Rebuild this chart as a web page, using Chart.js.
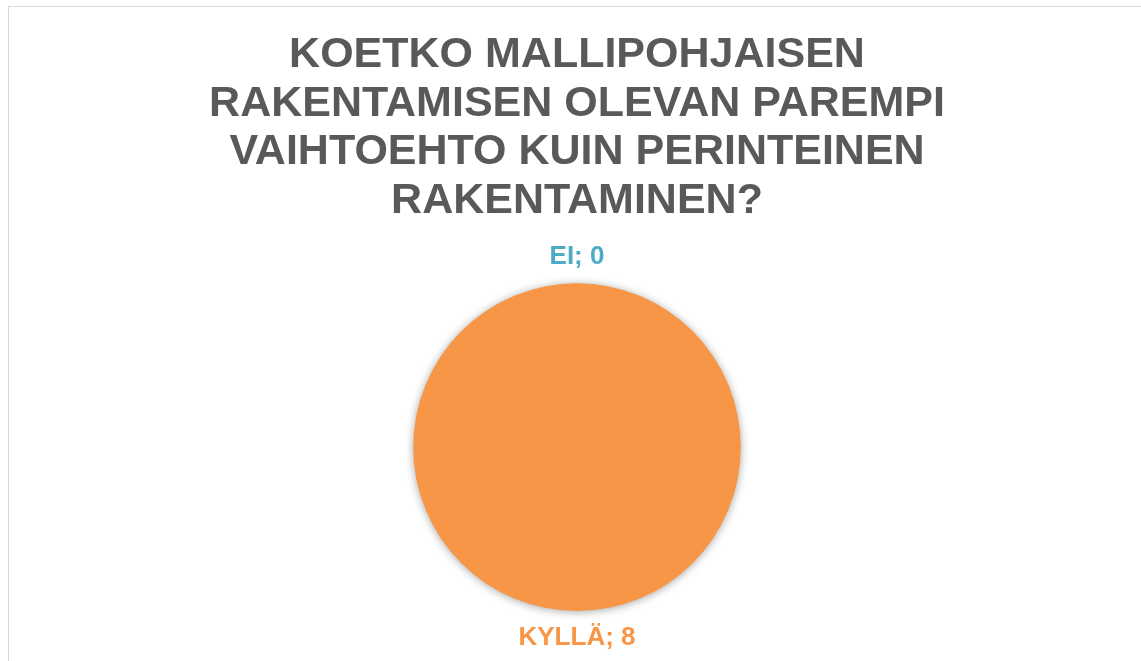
<!DOCTYPE html>
<html>
<head>
<meta charset="utf-8">
<script src="https://cdn.jsdelivr.net/npm/chart.js@4/dist/chart.umd.min.js"></script>
<style>
  html, body { margin: 0; padding: 0; background: #fff; overflow: hidden; }
  #frame {
    position: absolute; left: 8px; top: 6px;
    width: 1136px; height: 655px;
    border-left: 1px solid #d9d9d9; border-top: 1px solid #d9d9d9;
  }
  #chart { display: block; }
</style>
</head>
<body>
<div id="frame"><canvas id="chart" width="1136" height="655"></canvas></div>
<script>
// answers to the survey question
const titleLines = [
  'KOETKO MALLIPOHJAISEN',
  'RAKENTAMISEN OLEVAN PAREMPI',
  'VAIHTOEHTO KUIN PERINTEINEN',
  'RAKENTAMINEN?'
];
const answers = ['EI', 'KYLLÄ'];
const counts = [0, 8];

const sliceColors = ['#4BACC6', '#F79646'];
const FONT = '"Liberation Sans", Arial, sans-serif';

// soft drop shadow under the pie
const pieShadow = {
  id: 'pieShadow',
  beforeDatasetsDraw(chart) {
    const ctx = chart.ctx;
    ctx.save();
    ctx.shadowColor = 'rgba(0,0,0,0.35)';
    ctx.shadowBlur = 8;
    ctx.shadowOffsetX = 0;
    ctx.shadowOffsetY = 1;
  },
  afterDatasetsDraw(chart) {
    chart.ctx.restore();
  }
};

// "label; value" outside each slice, in the slice colour
const outsideLabels = {
  id: 'outsideLabels',
  afterDraw(chart) {
    const ctx = chart.ctx;
    const meta = chart.getDatasetMeta(0);
    ctx.save();
    ctx.font = 'bold 26px ' + FONT;
    ctx.textAlign = 'center';
    ctx.textBaseline = 'middle';
    meta.data.forEach((arc, i) => {
      const mid = (arc.startAngle + arc.endAngle) / 2;
      const r = arc.outerRadius + 27;
      ctx.fillStyle = sliceColors[i];
      ctx.fillText(answers[i] + '; ' + counts[i],
        arc.x + Math.cos(mid) * r, arc.y + Math.sin(mid) * r);
    });
    ctx.restore();
  }
};

new Chart(document.getElementById('chart'), {
  type: 'pie',
  data: {
    labels: answers,
    datasets: [{
      data: counts,
      backgroundColor: sliceColors,
      borderWidth: 0
    }]
  },
  options: {
    responsive: false,
    animation: false,
    layout: { padding: { top: 0, bottom: 51, left: 0, right: 0 } },
    plugins: {
      legend: { display: false },
      tooltip: { enabled: false },
      title: {
        display: true,
        text: titleLines,
        color: '#595959',
        font: { family: FONT, size: 43, weight: 'bold', lineHeight: 1.13 },
        padding: { top: 24, bottom: 58 }
      }
    }
  },
  plugins: [pieShadow, outsideLabels]
});
</script>
</body>
</html>
